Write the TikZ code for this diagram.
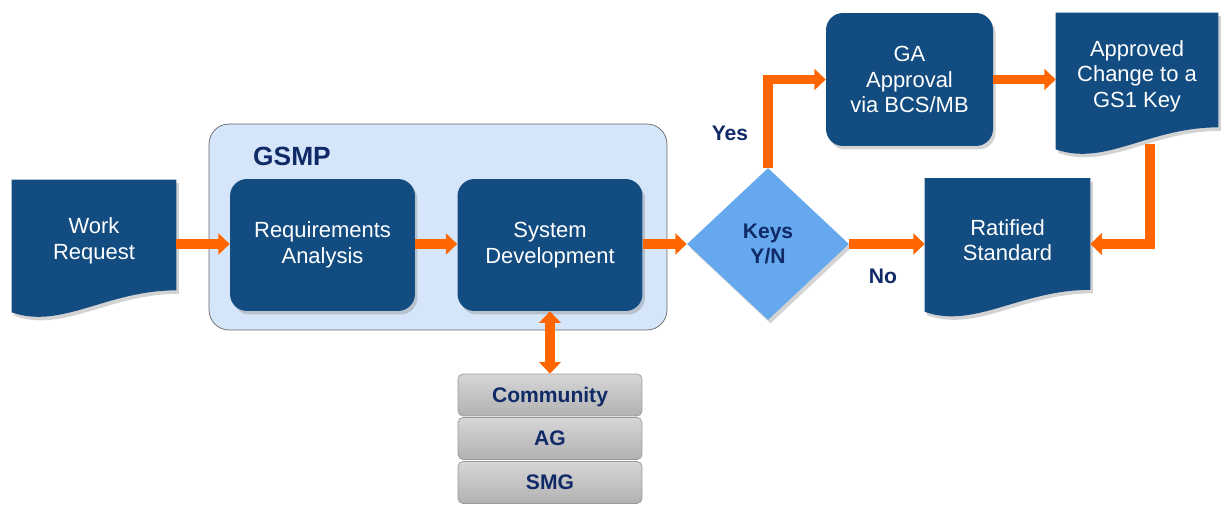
\documentclass[tikz,border=0pt]{standalone}
\usepackage{fontspec}
\setmainfont{Liberation Sans}
\usetikzlibrary{arrows.meta,shapes.geometric,shadows,backgrounds}
\definecolor{boxblue}{RGB}{18,76,128}
\definecolor{keyblue}{RGB}{102,168,238}
\definecolor{gsmpfill}{RGB}{214,230,250}
\definecolor{navy}{RGB}{16,42,104}
\definecolor{flow}{RGB}{255,102,0}
\definecolor{stackgray}{RGB}{178,178,178}
\definecolor{stacktop}{RGB}{214,214,214}
\newcommand{\wavedoc}[1]{%
  \fill[boxblue, boxshadow] (#1.north west) -- (#1.north east) -- ([yshift=0.24cm]#1.south east)
    .. controls +(-1.4cm,0cm) and +(1.0cm,-0.35cm) .. ([yshift=-0.2cm]#1.south west) -- cycle;}
\begin{document}
\begin{tikzpicture}[x=0.02cm, y=-0.02cm,
  every node/.style={font=\fontsize{12.5}{14.5}\selectfont},
  >={Triangle[length=6.5pt,width=12pt]},
  boxshadow/.style={drop shadow={opacity=0.35, shadow xshift=0.05cm, shadow yshift=-0.07cm}},
  proc/.style={rectangle, rounded corners=0.34cm, fill=boxblue, text=white, align=center,
    minimum width=3.7cm, minimum height=2.64cm, inner sep=0pt, boxshadow},
  doc/.style={rectangle, text=white, align=center, inner sep=0pt},
  member/.style={rectangle, rounded corners=0.1cm, draw=gray!80, top color=stacktop, bottom color=stackgray,
    text=navy, font=\bfseries\fontsize{12}{14}\selectfont, minimum width=3.68cm, minimum height=0.84cm,
    text depth=0pt},
  tag/.style={text=navy, align=center, font=\bfseries\fontsize{12}{14.5}\selectfont},
  flowline/.style={draw=flow, line width=5.6pt, ->}]
\useasboundingbox (0,0) rectangle (1226,506);

\node[fill=gsmpfill, draw=gray!80!black, rounded corners=0.4cm, minimum width=9.16cm, minimum height=4.12cm] (gsmp) at (438,227) {};
\node[tag, font=\bfseries\fontsize{15}{18}\selectfont] (gsmplabel) at (292,156) {GSMP};
\node[proc] (req) at (322.5,245) {Requirements\\Analysis};
\node[proc] (sys) at (550,245) {System\\Development};

\node[doc, minimum width=3.28cm, minimum height=2.44cm] (wr) at (94,241) {Work\\Request};
\node[doc, minimum width=3.24cm, minimum height=2.52cm] (appr) at (1137,76) {Approved\\Change to a\\GS1 Key};
\node[doc, minimum width=3.3cm, minimum height=2.46cm] (rat) at (1007.5,240) {Ratified\\Standard};
\begin{scope}[on background layer]
\wavedoc{wr}
\wavedoc{appr}
\wavedoc{rat}
\end{scope}

\node[proc, minimum width=3.34cm, minimum height=2.66cm] (ga) at (909.5,79.5) {GA\\Approval\\via BCS/MB};
\node[diamond, fill=keyblue, minimum width=3.24cm, minimum height=3.04cm, inner sep=0pt, tag, boxshadow] (keys) at (768,244) {Keys\\Y/N};

\node[member] (comm) at (550,395) {Community};
\node[member] (ag) at (550,438.5) {AG};
\node[member] (smg) at (550,482.5) {SMG};

\node[tag] (yes) at (730,133) {Yes};
\node[tag] (no) at (883,276) {No};

\draw[flowline] (wr.east |- keys.west) -- (keys.west -| req.west);
\draw[flowline] (req.east |- keys.west) -- (keys.west -| sys.west);
\draw[flowline] (sys.east |- keys.west) -- (keys.west);
\draw[flowline] (keys.north) |- (ga.west);
\draw[flowline] (ga.east) -- (ga.east -| appr.west);
\draw[flowline] ([xshift=0.26cm,yshift=-0.1cm]appr.south) |- (keys.east -| rat.east);
\draw[flowline] (keys.east) -- (keys.east -| rat.west);
\draw[flowline, <->] (sys.south) -- (comm.north);

\end{tikzpicture}
\end{document}
